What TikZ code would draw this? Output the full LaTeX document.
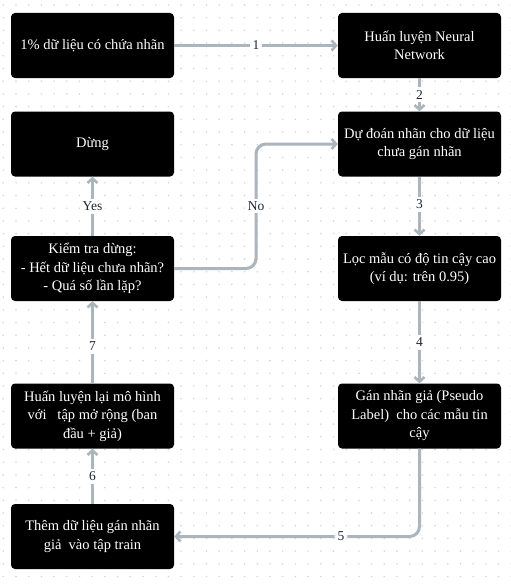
\documentclass[tikz,border=0pt]{standalone}
\usepackage{fontspec}
\setmainfont{Liberation Serif}
\usetikzlibrary{arrows.meta,calc}
\definecolor{conn}{HTML}{ABB5BE}
\definecolor{dotc}{HTML}{D3D8DD}
\definecolor{lbl}{HTML}{1F2430}
\begin{document}
\begin{tikzpicture}[x=1pt,y=-1pt,
  box/.style={draw=none,fill=black,rounded corners=4pt,minimum width=163pt,minimum height=65pt,
    text=white,align=center,font=\fontsize{14.5}{18.5}\selectfont,inner sep=1pt},
  cline/.style={draw=conn,line width=3pt,-{Straight Barb[length=4.5pt,width=10pt,line width=2.6pt]}},
  lab/.style={fill=white,text=lbl,font=\fontsize{13.5}{15}\selectfont,inner sep=3pt}]
\useasboundingbox (0,0) rectangle (511,586);
\fill[white] (0,0) rectangle (511,586);
\foreach \i in {0,...,40}{\foreach \j in {0,...,46}{
  \fill[dotc] (3.3+\i*12.7,5+\j*12.7) circle (0.9pt);}}
\node[box] (A) at (92.5,45.5) {1\% dữ liệu có chứa nhãn};
\node[box] (B) at (419.5,45.5) {Huấn luyện Neural\\Network};
\node[box] (D) at (92.5,144) {Dừng};
\node[box] (C) at (419.5,144) {Dự đoán nhãn cho dữ liệu\\chưa gán nhãn};
\node[box] (E) at (92.5,268.5) {Kiểm tra dừng:\\- Hết dữ liệu chưa nhãn?\\- Quá số lần lặp?};
\node[box] (F) at (419.5,268.5) {Lọc mẫu có độ tin cậy cao\\(ví dụ: trên 0.95)};
\node[box] (H) at (92.5,416) {Huấn luyện lại mô hình\\với~~ tập mở rộng (ban\\đầu + giả)};
\node[box] (G) at (419.5,416) {Gán nhãn giả (Pseudo\\Label)~ cho các mẫu tin\\cậy};
\node[box] (I) at (92.5,536.5) {Thêm dữ liệu gán nhãn\\giả~ vào tập train};
\coordinate (nx) at (256,0);
\draw[cline] (A) -- node[lab]{1} (B);
\draw[cline] (B) -- node[lab]{2} (C);
\draw[cline] (C) -- node[lab,pos=0.47]{3} (F);
\draw[cline] (F) -- node[lab]{4} (G);
\draw[cline,rounded corners=10pt] (G.south) |- node[lab,pos=0.66]{5} (I.east);
\draw[cline] (I) -- node[lab]{6} (H);
\draw[cline] (H) -- node[lab,pos=0.45]{7} (E);
\draw[cline] (E) -- node[lab]{Yes} (D);
\draw[cline,rounded corners=10pt] (E.east) -| (nx |- C.west) -- (C.west);
\node[lab] (no) at (256,206) {No};
\end{tikzpicture}
\end{document}
